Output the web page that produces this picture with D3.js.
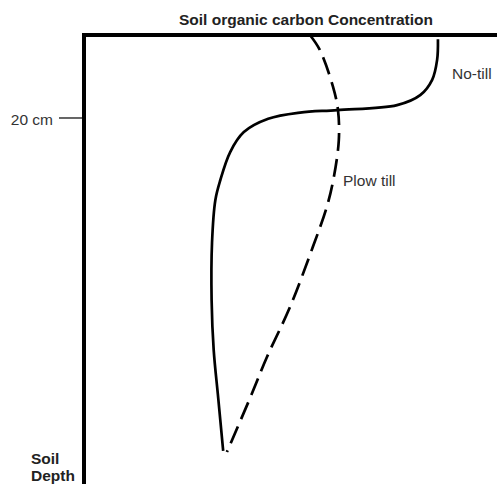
<!DOCTYPE html>
<html>
<head>
<meta charset="utf-8">
<title>Soil organic carbon Concentration</title>
<script src="https://d3js.org/d3.v7.min.js"></script>
<style>
  body { margin: 0; background: #fff; }
  text { font-family: "Liberation Sans", Arial, sans-serif; }
</style>
</head>
<body>
<svg id="chart" width="497" height="484"></svg>
<script>
// depth in cm, concentration in arbitrary units (0-100)
var noTillDepth = [1.0, 6.0, 10.8, 14.5, 16.9, 18.1, 18.7, 20.2, 23.4, 28.2, 35.0, 39.8, 50.0, 63.9, 75.9, 87.5, 100.2];
var noTillConc  = [85.7, 85.5, 84.3, 81.4, 75.8, 61.3, 52.3, 44.6, 38.7, 35.4, 33.0, 31.8, 31.0, 30.9, 31.4, 32.5, 33.7];

var plowDepth = [0, 3.6, 12.5, 18.1, 25.3, 34.2, 41.4, 51.1, 65.5, 77.6, 87.5, 100.5];
var plowConc  = [54.7, 57.1, 60.3, 61.5, 61.7, 60.5, 58.8, 55.4, 49.9, 44.3, 40.2, 34.6];

var depthTicks = [20];
var depthTickLabels = ["20 cm"];

var svg = d3.select("#chart");

var x = d3.scaleLinear().domain([0, 100]).range([84, 497]);
var y = d3.scaleLinear().domain([0, 108.2]).range([35, 484]);

// title
svg.append("text")
  .attr("x", 306).attr("y", 25)
  .attr("text-anchor", "middle")
  .style("font-size", "15.5px").style("font-weight", "bold")
  .attr("fill", "#222")
  .text("Soil organic carbon Concentration");

// curves
var line = d3.line()
  .x(function(d) { return x(d[1]); })
  .y(function(d) { return y(d[0]); })
  .curve(d3.curveCatmullRom.alpha(0.5));

svg.append("path")
  .datum(d3.zip(noTillDepth, noTillConc))
  .attr("d", line)
  .attr("fill", "none").attr("stroke", "#000").attr("stroke-width", 2.7);

svg.append("path")
  .datum(d3.zip(plowDepth, plowConc))
  .attr("d", line)
  .attr("fill", "none").attr("stroke", "#000").attr("stroke-width", 2.7)
  .attr("stroke-dasharray", "18,8");

// axes frame
svg.append("line")
  .attr("x1", x(0) - 2).attr("x2", x(100))
  .attr("y1", y(0)).attr("y2", y(0))
  .attr("stroke", "#000").attr("stroke-width", 4);
svg.append("line")
  .attr("x1", x(0)).attr("x2", x(0))
  .attr("y1", y(0)).attr("y2", 484)
  .attr("stroke", "#000").attr("stroke-width", 4);

// depth tick
depthTicks.forEach(function(t, i) {
  svg.append("line")
    .attr("x1", 59).attr("x2", x(0))
    .attr("y1", y(t)).attr("y2", y(t))
    .attr("stroke", "#000").attr("stroke-width", 1.2);
  svg.append("text")
    .attr("x", 53).attr("y", y(t) + 7)
    .attr("text-anchor", "end")
    .style("font-size", "15.5px").attr("fill", "#333")
    .text(depthTickLabels[i]);
});

// series labels
svg.append("text")
  .attr("x", 452).attr("y", 79)
  .style("font-size", "15.5px").attr("fill", "#333")
  .text("No-till");
svg.append("text")
  .attr("x", 343).attr("y", 186)
  .style("font-size", "15.5px").attr("fill", "#333")
  .text("Plow till");

// axis label
svg.append("text")
  .attr("x", 31).attr("y", 464)
  .style("font-size", "15.5px").style("font-weight", "bold").attr("fill", "#222")
  .text("Soil");
svg.append("text")
  .attr("x", 31).attr("y", 481)
  .style("font-size", "15.5px").style("font-weight", "bold").attr("fill", "#222")
  .text("Depth");
</script>
</body>
</html>
